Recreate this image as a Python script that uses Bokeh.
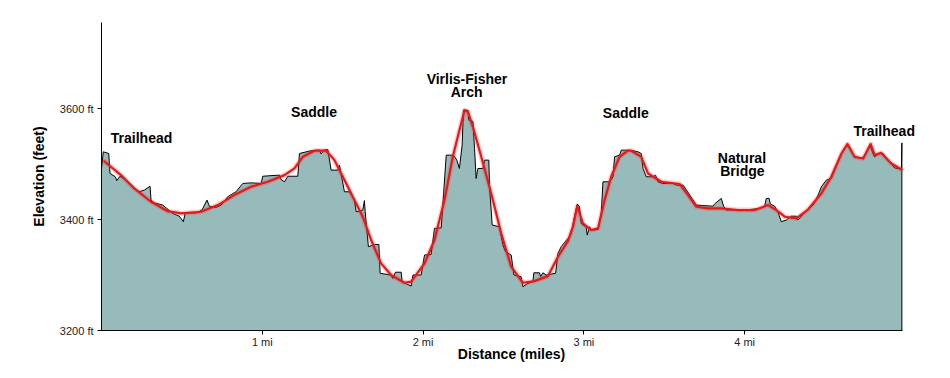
from bokeh.plotting import figure
from bokeh.models import Range1d, FixedTicker, PrintfTickFormatter, Label
from bokeh.embed import file_html
from bokeh.resources import INLINE

# Raw GPS elevation profile (miles, feet)
raw_dist = [0.000, 0.011, 0.045, 0.053, 0.086, 0.095, 0.115, 0.152, 0.215, 0.235,
            0.266, 0.302, 0.308, 0.329, 0.381, 0.443, 0.484, 0.509, 0.521, 0.588,
            0.625, 0.656, 0.671, 0.712, 0.744, 0.785, 0.837, 0.879, 0.930, 0.993,
            1.003, 1.106, 1.117, 1.138, 1.159, 1.221, 1.231, 1.304, 1.355, 1.366,
            1.383, 1.408, 1.428, 1.470, 1.480, 1.511, 1.542, 1.573, 1.584, 1.625,
            1.635, 1.640, 1.660, 1.698, 1.725, 1.733, 1.801, 1.812, 1.828, 1.864,
            1.870, 1.890, 1.926, 1.937, 1.988, 2.009, 2.050, 2.071, 2.113, 2.144,
            2.189, 2.210, 2.226, 2.243, 2.251, 2.279, 2.285, 2.310, 2.320, 2.330,
            2.341, 2.372, 2.382, 2.409, 2.413, 2.430, 2.475, 2.497, 2.513, 2.548,
            2.565, 2.610, 2.621, 2.652, 2.683, 2.689, 2.724, 2.731, 2.745, 2.766,
            2.824, 2.839, 2.859, 2.901, 2.922, 2.942, 2.959, 2.973, 2.984, 3.015,
            3.021, 3.035, 3.046, 3.088, 3.108, 3.119, 3.160, 3.181, 3.191, 3.222,
            3.233, 3.264, 3.306, 3.337, 3.357, 3.368, 3.388, 3.430, 3.446, 3.461,
            3.492, 3.554, 3.575, 3.617, 3.700, 3.803, 3.813, 3.855, 3.869, 3.886,
            3.969, 4.031, 4.093, 4.124, 4.135, 4.152, 4.160, 4.187, 4.208, 4.228,
            4.259, 4.290, 4.321, 4.332, 4.373, 4.426, 4.457, 4.477, 4.508, 4.539,
            4.581, 4.612, 4.639, 4.653, 4.684, 4.726, 4.747, 4.778, 4.799, 4.809,
            4.830, 4.861, 4.892, 4.933, 4.975, 4.978]
raw_elev = [3492, 3522, 3519, 3483, 3477, 3470, 3478, 3471, 3454, 3450,
            3453, 3460, 3435, 3430, 3426, 3411, 3406, 3396, 3412, 3412,
            3417, 3435, 3424, 3422, 3426, 3441, 3450, 3465, 3466, 3465,
            3478, 3480, 3472, 3468, 3478, 3478, 3519, 3524, 3525, 3518,
            3525, 3526, 3489, 3489, 3498, 3450, 3450, 3435, 3414, 3417,
            3434, 3414, 3351, 3355, 3355, 3303, 3300, 3294, 3305, 3305,
            3288, 3285, 3280, 3300, 3300, 3336, 3337, 3384, 3385, 3516,
            3516, 3507, 3492, 3534, 3597, 3597, 3579, 3577, 3528, 3474,
            3492, 3492, 3507, 3507, 3462, 3390, 3387, 3354, 3342, 3336,
            3300, 3297, 3279, 3285, 3288, 3304, 3304, 3297, 3304, 3300,
            3303, 3339, 3351, 3366, 3375, 3406, 3428, 3423, 3393, 3386,
            3372, 3387, 3381, 3382, 3411, 3468, 3468, 3477, 3513, 3516,
            3525, 3525, 3524, 3522, 3519, 3492, 3477, 3477, 3480, 3468,
            3465, 3466, 3462, 3462, 3426, 3424, 3428, 3438, 3424, 3417,
            3418, 3418, 3420, 3424, 3438, 3438, 3428, 3424, 3413, 3396,
            3399, 3406, 3406, 3399, 3413, 3426, 3444, 3459, 3471, 3474,
            3504, 3525, 3535, 3531, 3513, 3510, 3516, 3535, 3519, 3513,
            3519, 3519, 3507, 3493, 3491, 3538]

# Smoothed profile (miles, feet)
smooth_dist = [0.017, 0.121, 0.204, 0.308, 0.412, 0.495, 0.619, 0.723, 0.826, 0.930,
               1.034, 1.138, 1.200, 1.252, 1.324, 1.397, 1.449, 1.511, 1.573, 1.625,
               1.677, 1.739, 1.801, 1.884, 1.926, 2.009, 2.071, 2.133, 2.185, 2.226,
               2.258, 2.279, 2.310, 2.362, 2.424, 2.486, 2.548, 2.621, 2.693, 2.777,
               2.839, 2.901, 2.932, 2.959, 2.994, 3.046, 3.088, 3.129, 3.170, 3.222,
               3.274, 3.295, 3.357, 3.399, 3.482, 3.596, 3.648, 3.700, 3.772, 3.855,
               3.959, 4.062, 4.146, 4.197, 4.249, 4.322, 4.394, 4.477, 4.539, 4.602,
               4.639, 4.684, 4.737, 4.784, 4.809, 4.850, 4.912, 4.975]
smooth_elev = [3505, 3480, 3456, 3432, 3415, 3411, 3414, 3426, 3444, 3459,
               3468, 3480, 3492, 3513, 3524, 3524, 3507, 3471, 3435, 3405,
               3363, 3321, 3300, 3286, 3288, 3321, 3363, 3435, 3513, 3561,
               3597, 3594, 3567, 3513, 3447, 3375, 3315, 3286, 3289, 3298,
               3333, 3361, 3387, 3424, 3393, 3381, 3384, 3435, 3477, 3513,
               3524, 3524, 3513, 3483, 3468, 3464, 3444, 3423, 3420, 3420,
               3417, 3417, 3426, 3417, 3405, 3402, 3418, 3447, 3477, 3519,
               3536, 3513, 3510, 3536, 3516, 3520, 3501, 3490]

# Annotations
label_text = ["Trailhead", "Saddle", "Virlis-Fisher", "Arch", "Saddle",
              "Natural", "Bridge", "Trailhead"]
label_dist = [0.249, 1.322, 2.273, 2.271, 3.261, 3.983, 3.986, 4.868]
label_elev = [3547, 3593, 3654, 3629, 3592, 3511, 3487, 3559]

y_ticks = [3200, 3400, 3600]
x_ticks = [1, 2, 3, 4]

Y_MIN, Y_MAX = 3200, 3755
X_MIN, X_END, X_MAX = 0, 4.98, 5.1   # axis drawn to X_END; range padded for label

FONT = "Liberation Sans"

p = figure(width=942, height=370, output_backend="svg", toolbar_location=None,
           x_range=Range1d(X_MIN, X_MAX), y_range=Range1d(Y_MIN, Y_MAX),
           min_border_left=101, min_border_right=21, min_border_top=22,
           min_border_bottom=40)
p.outline_line_color = None
p.xgrid.visible = False
p.ygrid.visible = False
p.background_fill_color = "white"
p.border_fill_color = "white"

# Filled area under raw profile
p.varea(x=raw_dist, y1=[Y_MIN] * len(raw_dist), y2=raw_elev,
        fill_color="#97BBBB", fill_alpha=1.0)
# Raw outline (closing down to the baseline at the end)
p.line(x=raw_dist + [raw_dist[-1]], y=raw_elev + [Y_MIN],
       line_color="black", line_width=1)

# Smoothed line with glow
p.line(x=smooth_dist, y=smooth_elev, line_color="#FF3030", line_alpha=0.25,
       line_width=5, line_join="round", line_cap="round")
p.line(x=smooth_dist, y=smooth_elev, line_color="#E31A1C", line_width=2.2,
       line_join="round", line_cap="round")

for t, xd, yd in zip(label_text, label_dist, label_elev):
    p.add_layout(Label(x=xd, y=yd, text=t, text_align="center",
                       text_baseline="middle", text_font=FONT,
                       text_font_size="14px", text_font_style="bold",
                       text_color="black"))

# Axes
p.xaxis.ticker = FixedTicker(ticks=x_ticks)
p.xaxis.formatter = PrintfTickFormatter(format="%d mi")
p.xaxis.bounds = (X_MIN, X_END)
p.yaxis.ticker = FixedTicker(ticks=y_ticks)
p.yaxis.formatter = PrintfTickFormatter(format="%d ft")
for ax in (p.xaxis[0], p.yaxis[0]):
    ax.axis_line_color = "black"
    ax.axis_line_width = 1
    ax.major_tick_line_color = "black"
    ax.major_tick_in = 0
    ax.major_tick_out = 4
    ax.minor_tick_line_color = None
    ax.major_label_text_font = FONT
    ax.major_label_text_font_size = "11px"
    ax.major_label_text_color = "#222222"
    ax.axis_label_text_font = FONT
    ax.axis_label_text_font_size = "14px"
    ax.axis_label_text_font_style = "bold"
    ax.axis_label_text_color = "black"

p.xaxis.axis_label = "Distance (miles)"
p.xaxis.major_label_standoff = 1
p.xaxis.axis_label_standoff = -5
p.yaxis.axis_label = "Elevation (feet)"
p.yaxis.major_label_standoff = 4
p.yaxis.axis_label_standoff = 10

open("out.html", "w").write(file_html(p, INLINE))
